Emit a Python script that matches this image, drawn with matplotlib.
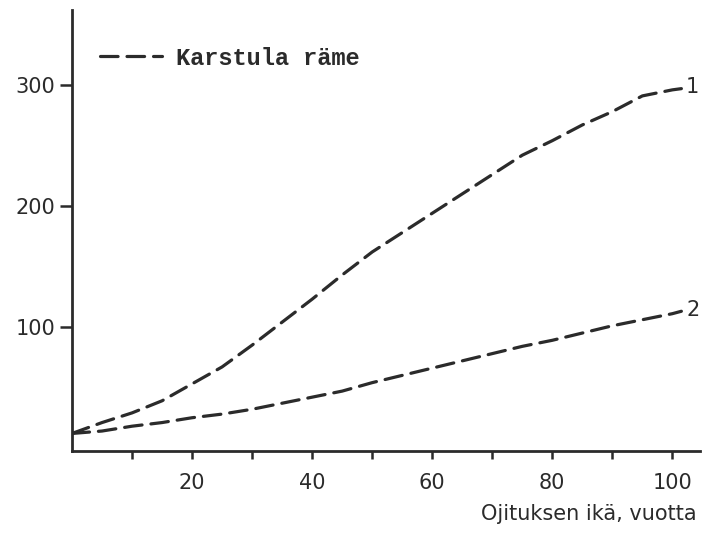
import matplotlib
matplotlib.use("Agg")
import matplotlib.pyplot as plt

# Data
age = [0, 5, 10, 15, 20, 25, 30, 35, 40, 45, 50, 55, 60, 65, 70, 75, 80,
       85, 90, 95, 100, 101.5]
curve1 = [12, 21, 29, 39, 53, 67, 85, 104, 123, 143, 162, 178, 194, 210,
          226, 242, 254, 267, 278, 291, 296, 297]
curve2 = [12, 14, 18, 21, 25, 28, 32, 37, 42, 47, 54, 60, 66, 72, 78, 84,
          89, 95, 101, 106, 111, 113]
y_ticks = [100, 200, 300]
x_major = [20, 40, 60, 80, 100]
x_minor = [10, 30, 50, 70, 90]
legend_label = "Karstula räme"
x_label = "Ojituksen ikä, vuotta"
curve_labels = ["1", "2"]

ink = "#2b2b2b"
W, H = 716, 533
fig = plt.figure(figsize=(W / 100, H / 100), dpi=100)
ax = fig.add_axes([72 / W, (H - 451) / H, (700 - 72) / W, (451 - 10) / H])

dash = (5.5, 2.8)
ax.plot(age, curve1, color=ink, lw=2.3, linestyle=(0, dash),
        dash_capstyle="round", label=legend_label)
ax.plot(age, curve2, color=ink, lw=2.3, linestyle=(0, dash),
        dash_capstyle="round")

ax.set_xlim(0, 104.6)
ax.set_ylim(-2.5, 362)

for s in ["top", "right"]:
    ax.spines[s].set_visible(False)
for s in ["left", "bottom"]:
    ax.spines[s].set_linewidth(2.0)
    ax.spines[s].set_color(ink)

ax.set_yticks(y_ticks)
ax.set_yticklabels([str(v) for v in y_ticks])
ax.set_xticks(x_major)
ax.set_xticklabels([str(v) for v in x_major])
ax.set_xticks(x_minor, minor=True)

ax.tick_params(axis="y", direction="out", length=9, width=1.8, pad=3,
               labelsize=15, colors=ink)
ax.tick_params(axis="x", which="both", direction="out", length=6, width=1.8,
               pad=10, labelsize=15, colors=ink)

ax.set_xlabel(x_label, fontsize=15, color=ink, ha="right", x=0.995,
              labelpad=8)

ax.text(103.4, 298, curve_labels[0], fontsize=15, color=ink,
        ha="center", va="center", clip_on=False)
ax.text(103.4, 114, curve_labels[1], fontsize=15, color=ink,
        ha="center", va="center", clip_on=False)

leg = ax.legend(loc="center left", bbox_to_anchor=(0.045, 0.891),
                frameon=False, borderpad=0, borderaxespad=0,
                handlelength=2.6, handletextpad=0.6,
                prop={"family": ["Liberation Mono", "DejaVu Sans Mono"],
                      "size": 17, "weight": "bold"})
for t in leg.get_texts():
    t.set_color(ink)

fig.savefig("out.png", dpi=100)
